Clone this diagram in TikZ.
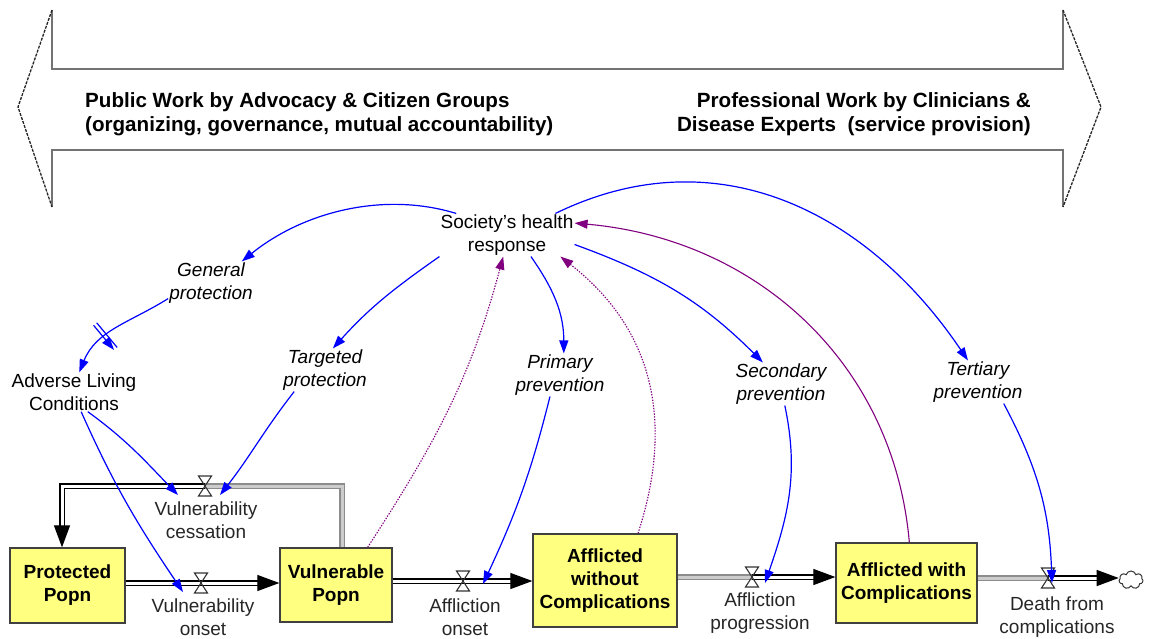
\documentclass[tikz,border=0pt]{standalone}
\usepackage{fontspec}
\setmainfont{Liberation Sans}
\usetikzlibrary{arrows.meta,shapes.symbols,decorations.markings}
\definecolor{stockfill}{RGB}{255,255,128}
\definecolor{cblue}{RGB}{0,0,255}
\definecolor{cpurple}{RGB}{128,0,128}
\begin{document}
\begin{tikzpicture}[x=1pt,y=1pt,
  lbl/.style={align=center, inner sep=1pt, font=\fontsize{19}{23}\selectfont},
  aux/.style={align=center, inner sep=1pt, font=\fontsize{19}{23}\selectfont\itshape},
  rate/.style={lbl, text=black!85},
  stock/.style={draw=black!75, line width=1.3pt, fill=stockfill, align=center, inner sep=0pt, font=\fontsize{19}{23}\selectfont\bfseries},
  title/.style={inner sep=0pt, font=\fontsize{20.6}{24}\selectfont\bfseries},
  conn/.style={cblue, line width=1.2pt, -{Triangle[length=13pt,width=9pt]}},
  fbdot/.style={cpurple, line width=1.1pt, dash pattern=on 1.4pt off 1.4pt, -{Triangle[length=13pt,width=9pt]}},
  fbsol/.style={cpurple, line width=1.1pt, -{Triangle[length=13pt,width=9pt]}},
  pipeK/.style={draw=black, line width=1.2pt, double=white, double distance=3pt},
  pipeG/.style={draw=black!45, line width=1.2pt, double=black!20, double distance=3pt},
  flowtip/.style={-{Triangle[length=22pt,width=16pt]}},
  bandline/.style={black!55, line width=1.5pt},
  bandtip/.style={black!85, line width=1.3pt, dash pattern=on 3pt off 1.2pt},
  valve/.pic={\draw[black!80, line width=1.1pt] (-6.5,10) -- (6.5,10) -- (-6.5,-10) -- (6.5,-10) -- cycle;},
  delaymark/.style={postaction={decorate, decoration={markings, mark=at position #1 with {\draw[cblue, line width=1.2pt] (-2,-16) -- (-2,16) (2,-16) -- (2,16);}}}}
]
\useasboundingbox (0,0) rectangle (1154,-638);

% big double arrow band
\draw[bandline] (52,-10) -- (52,-69) -- (1063,-69) -- (1063,-10);
\draw[bandline] (52,-207) -- (52,-150) -- (1063,-150) -- (1063,-207);
\draw[bandtip] (52,-10) -- (18,-107) -- (52,-207);
\draw[bandtip] (1063,-10) -- (1101,-107) -- (1063,-207);
\node[title, anchor=west, align=left] (pub) at (85,-114) {Public Work by Advocacy \& Citizen Groups\\(organizing, governance, mutual accountability)};
\node[title, anchor=east, align=right] (pro) at (1031,-114) {Professional Work by Clinicians \&\\Disease Experts\ \ (service provision)};

% stocks
\node[stock, minimum width=115pt, minimum height=75pt] (pp) at (67.5,-585.5) {Protected\\Popn};
\node[stock, minimum width=112pt, minimum height=74pt] (vp) at (336,-585) {Vulnerable\\Popn};
\node[stock, minimum width=144pt, minimum height=93pt] (aw) at (605,-580.5) {Afflicted\\without\\Complications};
\node[stock, minimum width=141pt, minimum height=80pt] (ac) at (906.5,-583) {Afflicted with\\Complications};
\node[cloud, cloud puffs=7, draw=black!80, line width=1pt, minimum width=24pt, minimum height=18pt, inner sep=0pt] (sink) at (1131,-580) {};

% valves and rate names
\coordinate (vc) at (205,-486);
\coordinate (vo) at (201,-583);
\coordinate (ao) at (463,-581);
\coordinate (ap) at (752,-577);
\coordinate (dc) at (1048,-578);
\coordinate (cR) at (342,-486);
\coordinate (cL) at (62,-486);

% pipes
\draw[pipeG] (cR |- vp.north) -- (cR) -- (vc);
\draw[pipeK, flowtip] (vc) -- (cL) -- (cL |- pp.north);
\draw[pipeK, flowtip] (pp.east |- vo) -- (vp.west |- vo);
\draw[pipeK, flowtip] (vp.east |- ao) -- (aw.west |- ao);
\draw[pipeG] (aw.east |- ap) -- (ap);
\draw[pipeK, flowtip] (ap) -- (ac.west |- ap);
\draw[pipeG] (ac.east |- dc) -- (dc);
\draw[pipeK, flowtip] (dc) -- (sink.west |- dc);

\pic at (vc) {valve};
\pic at (vo) {valve};
\pic at (ao) {valve};
\pic at (ap) {valve};
\pic at (dc) {valve};

\node[rate] (vcl) at (206,-520) {Vulnerability\\cessation};
\node[rate] (vol) at (203,-617) {Vulnerability\\onset};
\node[rate] (aol) at (465,-617) {Affliction\\onset};
\node[rate] (apl) at (760,-613) {Affliction\\progression};
\node[rate] (dcl) at (1057,-617) {Death from\\complications};

% auxiliaries
\node[lbl] (soc) at (507,-235) {Society's health\\response};
\node[aux] (gen) at (211,-283) {General\\protection};
\node[lbl] (adv) at (74,-392) {Adverse Living\\Conditions};
\node[aux] (tar) at (325,-370) {Targeted\\protection};
\node[aux] (pri) at (560,-375) {Primary\\prevention};
\node[aux] (sec) at (781,-384) {Secondary\\prevention};
\node[aux] (ter) at (978,-382) {Tertiary\\prevention};

% connector end points at rates
\coordinate (vcA) at (178,-495);
\coordinate (vcB) at (220,-495);
\coordinate (voA) at (183,-592);
\coordinate (aoA) at (483,-584);
\coordinate (apA) at (765,-583);
\coordinate (dcA) at (1052,-583);

% blue connectors
\draw[conn] (soc.157) to[out=163,in=39,looseness=0.9] (gen.35);
\draw[conn, delaymark=0.62] (gen.200) to[out=212,in=68] (adv.75);
\draw[conn] (soc.south west) to[out=215,in=48] (tar.70);
\draw[conn] (soc.-42) to[out=-55,in=90] (pri.80);
\draw[conn] (soc.-8) to[out=-20,in=135] (sec.130);
\draw[conn] (soc.24) to[out=26,in=124,looseness=1.05] (ter.115);
\draw[conn] (adv.-55) to[out=-36,in=134] (vcA);
\draw[conn] (adv.-70) to[out=-66,in=124] (voA);
\draw[conn] (tar.-145) to[out=232,in=52] (vcB);
\draw[conn] (pri.-115) to[out=256,in=65] (aoA);
\draw[conn] (sec.-80) to[out=-78,in=71] (apA);
\draw[conn] (ter.-40) to[out=-62,in=92] (dcA);

% purple feedback links
\draw[fbdot] (vp.50) to[out=57,in=-105] (soc.-100);
\draw[fbdot] (aw.55) to[out=72,in=-38,looseness=1.05] (soc.-22);
\draw[fbsol] (ac.86) to[out=95,in=-5] (soc.10);
\end{tikzpicture}
\end{document}
